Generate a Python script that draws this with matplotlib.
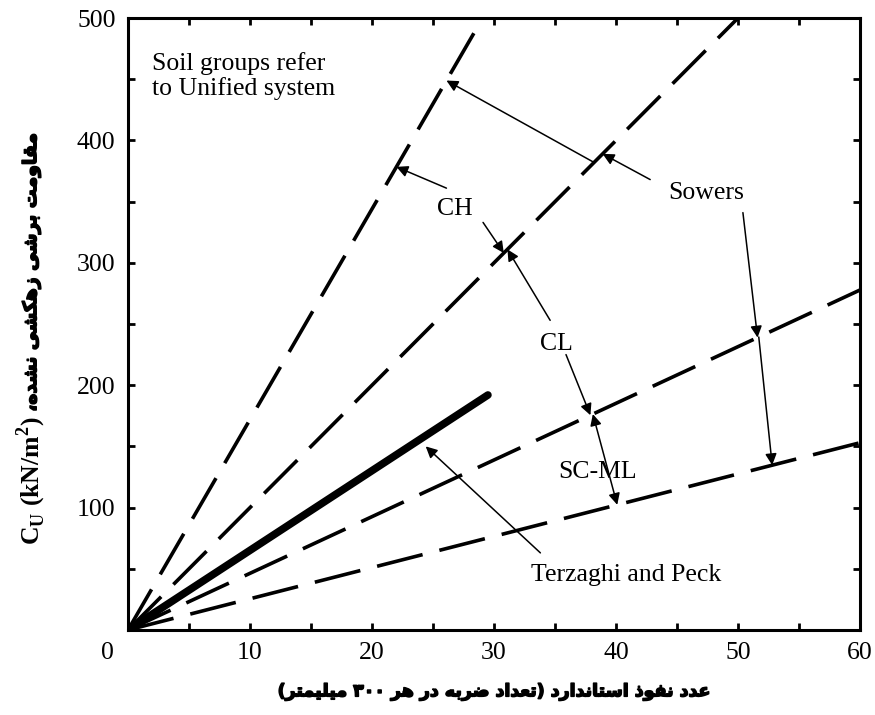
"""
Cu vs SPT N - Sowers / Terzaghi & Peck correlation chart (Persian labels)
"""
import re
import matplotlib
matplotlib.use('Agg')
import matplotlib.pyplot as plt
import matplotlib.patheffects as pe
from matplotlib.ticker import MultipleLocator

# --- data ---
n_max = 60
sowers_slopes = [17.2, 10.0, 4.63, 2.55]   # Cu = slope * N (kN/m2)
terzaghi_n = [0, 29.5]
terzaghi_cu = [0, 192]

x_ticks = [10, 20, 30, 40, 50, 60]
y_ticks = [100, 200, 300, 400, 500]

xlabel_fa = 'عدد نفوذ استاندارد (تعداد ضربه در هر ۳۰۰ میلیمتر)'
ylabel_fa = 'مقاومت برشی زهکشی نشده،'
ylabel_en = r'C$_\mathregular{U}$ (kN/m$^\mathregular{2}$)'

# --- tiny arabic/persian shaper (matplotlib does no shaping) ---
# isolated, final, initial, medial   (2 forms -> joins only to the right)
FORMS = {
    'ا': '\uFE8D\uFE8E', 'د': '\uFEA9\uFEAA', 'ذ': '\uFEAB\uFEAC',
    'ر': '\uFEAD\uFEAE', 'ز': '\uFEAF\uFEB0', 'و': '\uFEED\uFEEE',
    'ب': '\uFE8F\uFE90\uFE91\uFE92', 'ت': '\uFE95\uFE96\uFE97\uFE98',
    'س': '\uFEB1\uFEB2\uFEB3\uFEB4', 'ش': '\uFEB5\uFEB6\uFEB7\uFEB8',
    'ض': '\uFEBD\uFEBE\uFEBF\uFEC0', 'ع': '\uFEC9\uFECA\uFECB\uFECC',
    'ف': '\uFED1\uFED2\uFED3\uFED4', 'ق': '\uFED5\uFED6\uFED7\uFED8',
    'ل': '\uFEDD\uFEDE\uFEDF\uFEE0', 'م': '\uFEE1\uFEE2\uFEE3\uFEE4',
    'ن': '\uFEE5\uFEE6\uFEE7\uFEE8', 'ه': '\uFEE9\uFEEA\uFEEB\uFEEC',
    'ک': '\uFB8E\uFB8F\uFB90\uFB91', 'ی': '\uFBFC\uFBFD\uFBFE\uFBFF',
}


def shape(text):
    out = []
    for i, ch in enumerate(text):
        if ch not in FORMS:
            out.append(ch)
            continue
        forms = FORMS[ch]
        prev = text[i - 1] if i > 0 else ''
        nxt = text[i + 1] if i + 1 < len(text) else ''
        join_prev = prev in FORMS and len(FORMS[prev]) == 4
        join_next = len(forms) == 4 and nxt in FORMS
        if join_prev and join_next:
            out.append(forms[3])
        elif join_prev:
            out.append(forms[1])
        elif join_next:
            out.append(forms[2])
        else:
            out.append(forms[0])
    return ''.join(out)


def rtl(text):
    runs = re.findall(r'[0-9۰-۹A-Za-z]+|[^0-9۰-۹A-Za-z]', shape(text))
    mirror = {'(': ')', ')': '('}
    return ''.join(mirror.get(r, r) for r in runs[::-1])


serif = 'Liberation Serif'
fa_font = 'DejaVu Sans'
fs = 18.5

fig = plt.figure(figsize=(8.75, 7.15), dpi=100)
ax = fig.add_axes([0.1463, 0.1189, 0.9829 - 0.1463, 0.9748 - 0.1189])

dash = (0, (13, 4.8))
for s in sowers_slopes:
    ax.plot([0, n_max], [0, s * n_max], color='black', lw=2.6, linestyle=dash,
            solid_capstyle='butt', dash_capstyle='butt')
ax.plot(terzaghi_n, terzaghi_cu, color='black', lw=5.5, solid_capstyle='round')

ax.set_xlim(0, 60)
ax.set_ylim(0, 500)
ax.set_xticks(x_ticks)
ax.set_yticks(y_ticks)
ax.xaxis.set_minor_locator(MultipleLocator(5))
ax.yaxis.set_minor_locator(MultipleLocator(50))
ax.tick_params(which='both', direction='in', top=True, right=True,
               length=5, width=2, pad=9, labelsize=fs)
for lab in ax.get_xticklabels() + ax.get_yticklabels():
    lab.set_fontfamily(serif)
for sp in ax.spines.values():
    sp.set_linewidth(2.2)

# origin label sits a bit left of the corner
ax.annotate('0', xy=(-1.7, 0), xycoords=('data', 'axes fraction'),
            xytext=(0, -9), textcoords='offset points', ha='center', va='top',
            fontsize=fs, family=serif, annotation_clip=False)


def on(k, n):
    return (n, sowers_slopes[k] * n)


arrow = dict(arrowstyle='-|>', color='black', lw=1.1, mutation_scale=17,
             shrinkA=0, shrinkB=0)
txt = dict(fontsize=fs, family=serif, ha='center', va='center')

ax.text(2.0, 472, 'Soil groups refer\nto Unified system', fontsize=fs,
        family=serif, ha='left', va='top', linespacing=1.12)

# Sowers
ax.text(47.4, 357, 'Sowers', **txt)
ax.annotate('', xy=on(1, 38.9), xytext=(42.8, 368), arrowprops=arrow)
ax.annotate('', xy=on(0, 26.1), xytext=on(1, 38.2), arrowprops=arrow)
ax.annotate('', xy=on(2, 51.6), xytext=(50.4, 341), arrowprops=arrow)
ax.annotate('', xy=on(3, 52.8), xytext=on(2, 51.7), arrowprops=arrow)

# CH
ax.text(26.8, 344, 'CH', **txt)
ax.annotate('', xy=on(0, 22.0), xytext=(26.1, 361), arrowprops=arrow)
ax.annotate('', xy=on(1, 30.8), xytext=(29.1, 333), arrowprops=arrow)

# CL
ax.text(35.1, 234, 'CL', **txt)
ax.annotate('', xy=on(1, 31.1), xytext=(34.6, 253), arrowprops=arrow)
ax.annotate('', xy=on(2, 37.9), xytext=(35.9, 225), arrowprops=arrow)

# SC-ML
ax.annotate('', xy=on(3, 40.1), xytext=on(2, 38.1),
            arrowprops=dict(arrow, arrowstyle='<|-|>'))
ax.text(38.5, 129, 'SC-ML', **txt)

# Terzaghi and Peck
ax.text(40.8, 45, 'Terzaghi and Peck', **txt)
ax.annotate('', xy=(24.4, 150), xytext=(33.8, 63), arrowprops=arrow)

# axis labels (persian text thickened a little to look like the heavy original)
heavy = [pe.withStroke(linewidth=1.1, foreground='black')]
fig.text(0.5646, 0.033, rtl(xlabel_fa), ha='center', va='center',
         fontsize=12.5, fontweight='bold', family=fa_font, path_effects=heavy)
fig.text(0.036, 0.424, rtl(ylabel_fa), rotation=90, ha='center', va='bottom',
         fontsize=13.5, fontweight='bold', family=fa_font, path_effects=heavy)
fig.text(0.036, 0.418, ylabel_en, rotation=90, ha='center', va='top',
         fontsize=fs, fontweight='bold', family=serif)

fig.savefig('out.png', dpi=100, facecolor='white')
